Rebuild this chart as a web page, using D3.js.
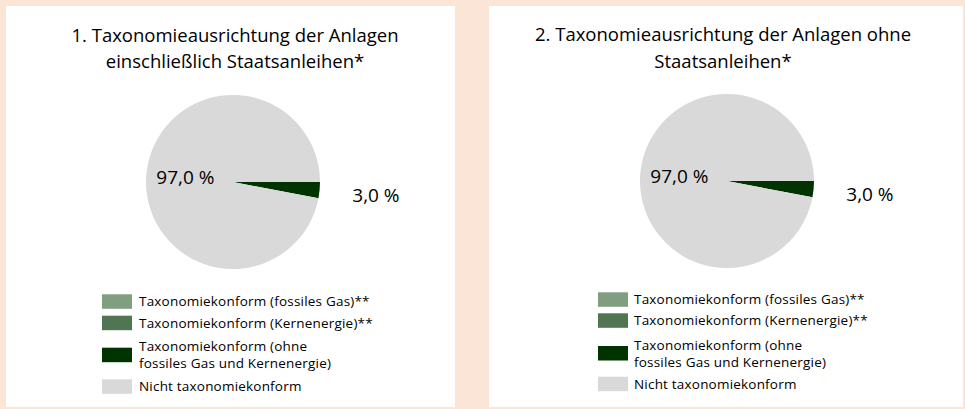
<!DOCTYPE html>
<html>
<head>
<meta charset="utf-8">
<script src="https://cdn.jsdelivr.net/npm/d3@7"></script>
<style>
  html, body { margin: 0; padding: 0; background: #fbe5d6; }
  svg { display: block; }
  text { font-family: "Open Sans", "DejaVu Sans", sans-serif; fill: #000; }
</style>
</head>
<body>
<svg id="chart" width="965" height="409"></svg>
<script>
// ---- data ----
const categories = [
  "Taxonomiekonform (fossiles Gas)**",
  "Taxonomiekonform (Kernenergie)**",
  "Taxonomiekonform (ohne fossiles Gas und Kernenergie)",
  "Nicht taxonomiekonform"
];
const legendLines = [
  ["Taxonomiekonform (fossiles Gas)**"],
  ["Taxonomiekonform (Kernenergie)**"],
  ["Taxonomiekonform (ohne", "fossiles Gas und Kernenergie)"],
  ["Nicht taxonomiekonform"]
];
const valuesInclSov = [0, 0, 3.0, 97.0];
const valuesExclSov = [0, 0, 3.0, 97.0];
const titleLines1 = ["1. Taxonomieausrichtung der Anlagen", "einschließlich Staatsanleihen*"];
const titleLines2 = ["2. Taxonomieausrichtung der Anlagen ohne", "Staatsanleihen*"];
const colors = ["#819e80", "#4f7552", "#003300", "#d9d9d9"];

// ---- layout ----
const panels = [
  { x: 6, y: 6, w: 449, h: 401, cx: 233, cy: 182, r: 87, titleX: 235, titleY: [41.5, 68], values: valuesInclSov, titles: titleLines1,
    legX: 102, legRows: [294.3, 315.7, 347.7, 379.3], textGap: 37 },
  { x: 489, y: 6, w: 474, h: 401, cx: 727, cy: 181, r: 87, titleX: 723, titleY: [41, 67.5], values: valuesExclSov, titles: titleLines2,
    legX: 598, legRows: [292.3, 313.3, 346, 376.7], textGap: 36 }
];

const svg = d3.select("#chart");
const color = d3.scaleOrdinal().domain(categories).range(colors);
const fmt = v => d3.format(".1f")(v).replace(".", ",") + " %";

const pie = d3.pie().sort(null).value(d => d.value)
  .startAngle(Math.PI / 2).endAngle(Math.PI / 2 + 2 * Math.PI);

panels.forEach(p => {
  svg.append("rect").attr("x", p.x).attr("y", p.y).attr("width", p.w).attr("height", p.h).attr("fill", "#ffffff");

  p.titles.forEach((line, i) => {
    svg.append("text").attr("text-anchor", "middle").style("font-size", "18.5px")
      .attr("x", p.titleX).attr("y", p.titleY[i]).text(line);
  });

  const data = categories.map((c, i) => ({ cat: c, value: p.values[i] }));
  const arcs = pie(data);
  const arc = d3.arc().innerRadius(0).outerRadius(p.r);
  const g = svg.append("g").attr("transform", `translate(${p.cx},${p.cy})`);
  g.selectAll("path").data(arcs.filter(a => a.data.value > 0)).join("path")
    .attr("d", arc).attr("fill", d => color(d.data.cat));

  const inner = d3.arc().innerRadius(p.r * 0.55).outerRadius(p.r * 0.55);
  const outer = d3.arc().innerRadius(p.r * 1.65).outerRadius(p.r * 1.65);
  g.selectAll("text.lbl").data(arcs.filter(a => a.data.value > 0)).join("text")
    .attr("class", "lbl")
    .attr("text-anchor", "middle")
    .attr("dy", "0.36em")
    .style("font-size", "19px")
    .attr("transform", d => {
      const c = (d.data.value > 50 ? inner : outer).centroid(d);
      return `translate(${c[0]},${c[1]})`;
    })
    .text(d => fmt(d.data.value));

  // legend
  const sw = 30, sh = 14.5;
  categories.forEach((c, i) => {
    const y = p.legRows[i];
    svg.append("rect").attr("x", p.legX).attr("y", y).attr("width", sw).attr("height", sh).attr("fill", color(c));
    const lines = legendLines[i];
    const mid = y + sh / 2;
    const lh = 17;
    lines.forEach((ln, j) => {
      const ly = mid + (j - (lines.length - 1) / 2) * lh;
      svg.append("text").style("font-size", "13.5px").style("letter-spacing", "0.2px")
        .attr("x", p.legX + p.textGap).attr("y", ly).attr("dy", "0.36em").text(ln);
    });
  });
});
</script>
</body>
</html>
